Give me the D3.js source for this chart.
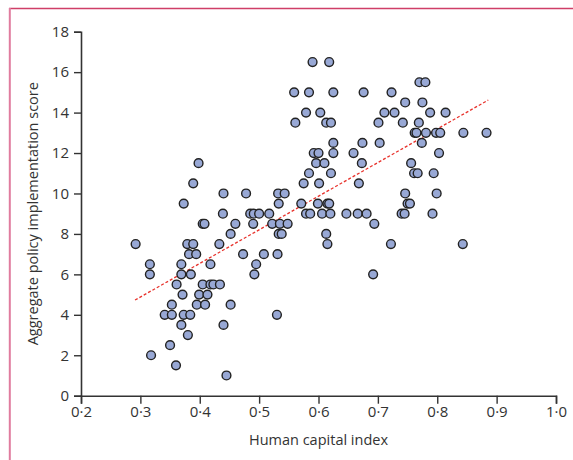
<!DOCTYPE html>
<html>
<head>
<meta charset="utf-8">
<script src="https://cdn.jsdelivr.net/npm/d3@7"></script>
<style>
  html, body { margin: 0; padding: 0; background: #fff; }
  svg { display: block; }
  text { font-family: "Open Sans", "Noto Sans", sans-serif; fill: #333; }
</style>
</head>
<body>
<svg id="chart" width="573" height="460"></svg>
<script>
// Human capital index (x) for each country
const hci = [
  0.292,0.316,0.316,0.318,0.341,0.353,0.353,0.350,0.361,0.360,
  0.369,0.369,0.371,0.369,0.373,0.384,0.380,0.379,0.389,0.382,
  0.394,0.385,0.399,0.395,0.405,0.409,0.413,0.418,0.418,0.423,
  0.434,0.433,0.440,0.445,0.452,0.452,0.473,0.495,0.492,0.508,
  0.531,0.530,0.533,0.538,0.398,0.389,0.440,0.478,0.373,0.439,
  0.485,0.491,0.500,0.517,0.405,0.408,0.460,0.490,0.522,0.535,
  0.548,0.533,0.571,0.599,0.615,0.618,0.532,0.543,0.579,0.586,
  0.606,0.620,0.647,0.666,0.681,0.694,0.613,0.615,0.692,0.722,
  0.843,0.559,0.561,0.590,0.618,0.770,0.780,0.584,0.625,0.676,
  0.723,0.746,0.775,0.579,0.603,0.711,0.728,0.788,0.814,0.613,
  0.621,0.701,0.742,0.769,0.762,0.765,0.781,0.798,0.805,0.844,
  0.883,0.625,0.674,0.703,0.774,0.592,0.600,0.625,0.659,0.803,
  0.596,0.610,0.673,0.756,0.584,0.621,0.761,0.767,0.794,0.575,
  0.601,0.668,0.746,0.799,0.750,0.754,0.740,0.745,0.792
];
// Aggregate policy implementation score (y) for each country
const score = [
  7.5,6.5,6.0,2.0,4.0,4.0,4.5,2.5,5.5,1.5,
  6.5,6.0,5.0,3.5,4.0,4.0,3.0,7.5,7.5,7.0,
  7.0,6.0,5.0,4.5,5.5,4.5,5.0,6.5,5.5,5.5,
  5.5,7.5,3.5,1.0,4.5,8.0,7.0,6.5,6.0,7.0,
  7.0,4.0,8.0,8.0,11.5,10.5,10.0,10.0,9.5,9.0,
  9.0,9.0,9.0,9.0,8.5,8.5,8.5,8.5,8.5,8.5,
  8.5,9.5,9.5,9.5,9.5,9.5,10.0,10.0,9.0,9.0,
  9.0,9.0,9.0,9.0,9.0,8.5,8.0,7.5,6.0,7.5,
  7.5,15.0,13.5,16.5,16.5,15.5,15.5,15.0,15.0,15.0,
  15.0,14.5,14.5,14.0,14.0,14.0,14.0,14.0,14.0,13.5,
  13.5,13.5,13.5,13.5,13.0,13.0,13.0,13.0,13.0,13.0,
  13.0,12.5,12.5,12.5,12.5,12.0,12.0,12.0,12.0,12.0,
  11.5,11.5,11.5,11.5,11.0,11.0,11.0,11.0,11.0,10.5,
  10.5,10.5,10.0,10.0,9.5,9.5,9.0,9.0,9.0
];
// Fitted trend line end points [hci, score]
const trendX = [0.291, 0.886];
const trendY = [4.73, 14.62];
// Tick values
const xTicks = [0.2,0.3,0.4,0.5,0.6,0.7,0.8,0.9,1.0];
const yTicks = [0,2,4,6,8,10,12,14,16,18];
const xTitle = "Human capital index";
const yTitle = "Aggregate policy implementation score";

const svg = d3.select("#chart");
const mLeft = 81, mRight = 556, mTop = 31.7, mBottom = 395.7;

// Frame (journal panel border)
svg.append("line").attr("x1", 9).attr("x2", 573).attr("y1", 8.5).attr("y2", 8.5)
  .attr("stroke", "#cf3f67").attr("stroke-width", 1.6);
svg.append("line").attr("x1", 9.8).attr("x2", 9.8).attr("y1", 8).attr("y2", 460)
  .attr("stroke", "#e07c9f").attr("stroke-width", 2);

const x = d3.scaleLinear().domain([0.2, 1.0]).range([mLeft, mRight]);
const y = d3.scaleLinear().domain([0, 18]).range([mBottom, mTop]);

const fmt = d => d3.format(".1f")(d).replace(".", "·");

const xAxis = svg.append("g").attr("transform", `translate(0,${mBottom})`)
  .call(d3.axisBottom(x).tickValues(xTicks).tickFormat(fmt).tickSize(8).tickPadding(3));
const yAxis = svg.append("g").attr("transform", `translate(${mLeft},0)`)
  .call(d3.axisLeft(y).tickValues(yTicks).tickFormat(d3.format("d")).tickSize(7).tickPadding(5));

[xAxis, yAxis].forEach(g => {
  g.select(".domain").attr("stroke", "#333").attr("stroke-width", 1.6);
  g.selectAll(".tick line").attr("stroke", "#333").attr("stroke-width", 1.4);
  g.selectAll(".tick text").style("font-family", '"Open Sans", "Noto Sans", sans-serif')
    .style("font-size", "15px").attr("fill", "#333");
});

// Trend line
svg.append("line")
  .attr("x1", x(trendX[0])).attr("y1", y(trendY[0]))
  .attr("x2", x(trendX[1])).attr("y2", y(trendY[1]))
  .attr("stroke", "#e8322c").attr("stroke-width", 1.3)
  .attr("stroke-dasharray", "3,2");

// Points
const pts = hci.map((v, i) => ({ x: v, y: score[i] }));
svg.append("g").selectAll("circle").data(pts).join("circle")
  .attr("cx", d => x(d.x)).attr("cy", d => y(d.y)).attr("r", 4.4)
  .attr("fill", "#98a8d5").attr("stroke", "#222").attr("stroke-width", 1.4);

// Axis titles
svg.append("text").attr("x", (mLeft + mRight) / 2).attr("y", 445)
  .attr("text-anchor", "middle").style("font-size", "14.5px").text(xTitle);
svg.append("text").attr("transform", `translate(38,${(mTop + mBottom) / 2}) rotate(-90)`)
  .attr("text-anchor", "middle").style("font-size", "14.5px").text(yTitle);
</script>
</body>
</html>
